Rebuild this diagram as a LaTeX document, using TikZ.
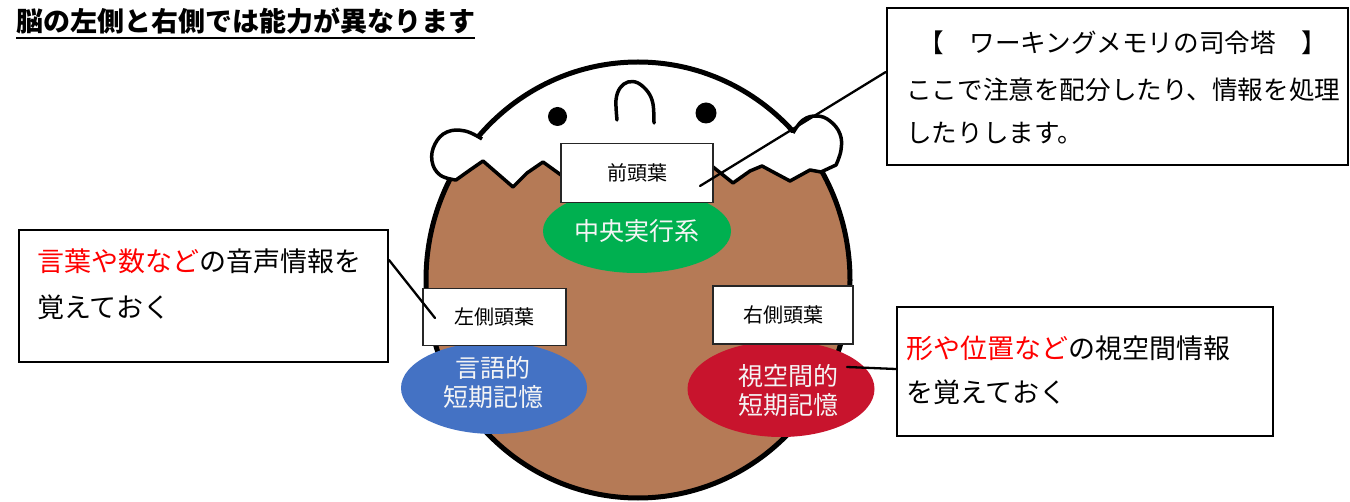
\documentclass[tikz,border=0pt]{standalone}
\usepackage{fontspec}
\newfontfamily\jp{Noto Sans CJK JP}
\usetikzlibrary{shapes.geometric}
\definecolor{skin}{RGB}{181,122,86}
\definecolor{execgreen}{RGB}{0,176,80}
\definecolor{verbblue}{RGB}{68,114,196}
\definecolor{visred}{RGB}{200,20,45}
\begin{document}
\begin{tikzpicture}[x=1pt,y=-1pt,
  lobelabel/.style={draw=black!85, line width=1.5pt, fill=white, inner sep=0pt,
    font=\jp\fontsize{20}{20}\selectfont},
  memblob/.style={ellipse, inner sep=0pt},
  blobtext/.style={font=\jp\fontsize{25}{29}\selectfont, text=white!96!black, align=center, inner sep=0pt},
  notebox/.style={draw=black, fill=white, line width=2pt, inner sep=0pt},
  notetext/.style={font=\jp\fontsize{27}{27}\selectfont, anchor=base west, inner sep=0pt},
  cmdtext/.style={font=\jp\fontsize{25.6}{25.6}\selectfont, anchor=base west, inner sep=0pt},
  leader/.style={line width=2.3pt, line cap=round}]
\useasboundingbox (0,0) rectangle (1350,502);

% title
\node[font=\jp\bfseries\fontsize{27}{27}\selectfont, anchor=base west, inner sep=0pt]
  (title) at (16,32) {脳の左側と右側では能力が異なります};
\draw[line width=2.5pt] ([yshift=-6pt]title.base west) -- ([yshift=-6pt]title.base east);

% head: brown body
\fill[skin] (638,280) ellipse [x radius=212, y radius=218];
% white shell on top, inside the head
\begin{scope}
  \clip (638,280) ellipse [x radius=212, y radius=218];
  \fill[white] (420,181) -- (456,180) -- (470,170) -- (483,161) -- (498,174) -- (513,187)
    -- (527,173) -- (543,162) -- (561,175) -- (600,185) -- (640,175) -- (680,185)
    -- (713,167) -- (733,183) -- (750,171) -- (762,166) -- (775,173) -- (790,181)
    -- (810,170) -- (821,172) -- (836,165) -- (870,165) -- (870,40) -- (410,40) -- cycle;
\end{scope}
% head outline
\draw[line width=5pt] (638,280) ellipse [x radius=212, y radius=218];
% shell edge with its two side lobes
\filldraw[fill=white, draw=black, line width=3.5pt, line join=round]
  (482,139) -- plot[smooth, tension=0.7] coordinates
    {(482,139) (465,131) (447,132) (435,144) (432,161) (440,175) (456,180)}
  -- (470,170) -- (483,161) -- (498,174) -- (513,187) -- (527,173) -- (543,162)
  -- (561,175) -- (600,185) -- (640,175) -- (680,185)
  -- (713,167) -- (733,183) -- (750,171) -- (762,166) -- (775,173) -- (790,181)
  -- (810,170) -- (821,172) -- (836,165)
  -- plot[smooth, tension=0.7] coordinates
    {(836,165) (841,150) (840,134) (830,121) (817,116) (803,120) (793,133)};

% face
\fill (557.5,116.5) circle [radius=9.5];
\fill (706,113) circle [radius=10.5];
\draw[line width=3.5pt, line cap=round] plot[smooth, tension=0.6] coordinates
  {(617,120) (616,100) (620,88) (628,82) (638,83) (648,92) (653,104) (654,123)};

% memory areas
\node[memblob, fill=execgreen, minimum width=188pt, minimum height=84pt,
  font=\jp\fontsize{25}{25}\selectfont, text=white!96!black] (exec) at (637,231) {中央実行系};
\node[memblob, fill=verbblue, minimum width=186pt, minimum height=92pt] (verbal) at (494,388) {};
\node[blobtext] (verbaltext) at (493,382.5) {言語的\\短期記憶};
\node[memblob, fill=visred, minimum width=187pt, minimum height=96pt] (visual) at (781,389) {};
\node[blobtext] (visualtext) at (788,391) {視空間的\\短期記憶};

% lobe labels
\node[lobelabel, minimum width=152pt, minimum height=59pt] (front) at (637,173) {前頭葉};
\node[lobelabel, minimum width=143pt, minimum height=57pt] (ltemp) at (494.5,317) {左側頭葉};
\node[lobelabel, minimum width=140pt, minimum height=58pt] (rtemp) at (783,315) {右側頭葉};

% note boxes
\node[notebox, line width=2.5pt, minimum width=461pt, minimum height=157pt] (cmdbox) at (1117.5,86.5) {};
\node[cmdtext] (cmd1) at (918,53) {【　ワーキングメモリの司令塔　】};
\node[cmdtext] (cmd2) at (906,100) {ここで注意を配分したり、情報を処理};
\node[cmdtext] (cmd3) at (906,143) {したりします。};

\node[notebox, minimum width=369pt, minimum height=132pt] (lbox) at (203.5,296) {};
\node[notetext] (l1) at (37,272) {\textcolor{red}{言葉や数など}の音声情報を};
\node[notetext] (l2) at (37,318) {覚えておく};

\node[notebox, line width=2.5pt, minimum width=376pt, minimum height=129pt] (rbox) at (1085,371.5) {};
\node[notetext] (r1) at (906,358.5) {\textcolor{red}{形や位置など}の視空間情報};
\node[notetext] (r2) at (906,402.5) {を覚えておく};

% leader lines
\draw[leader] ([yshift=14.5pt]cmdbox.west) -- ([xshift=63pt, yshift=-13pt]front.center);
\draw[leader] ([yshift=36pt]lbox.east) -- ([xshift=-59.5pt, yshift=-1pt]ltemp.center);
\draw[leader] ([xshift=66pt, yshift=22pt]visual.center) -- ([yshift=2.5pt]rbox.west);
\end{tikzpicture}
\end{document}
